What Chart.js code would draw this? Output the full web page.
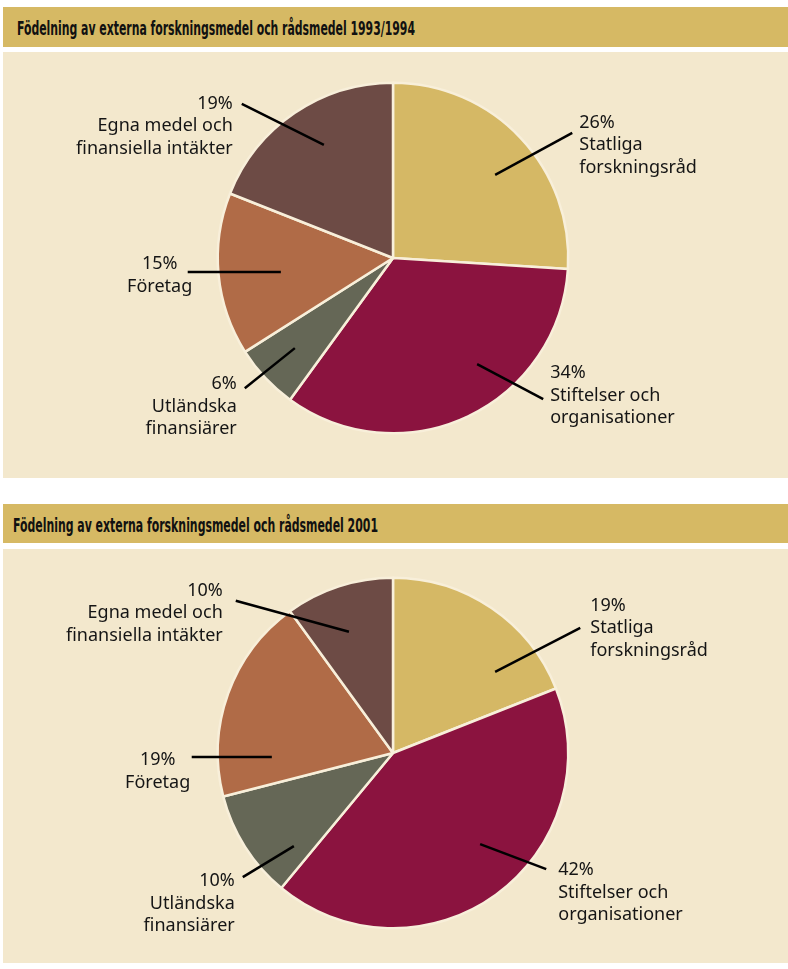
<!DOCTYPE html>
<html>
<head>
<meta charset="utf-8">
<script src="https://cdn.jsdelivr.net/npm/chart.js@4"></script>
<style>
  body { margin: 0; background: #ffffff; width: 788px; height: 969px; position: relative; overflow: hidden; }
  .bar { position: absolute; left: 3px; width: 785px; background: #d6b964; }
  .bar span {
    position: absolute; white-space: nowrap; display: inline-block;
    font: bold 19px "Liberation Sans Narrow", "DejaVu Sans Condensed", "Arial Narrow", sans-serif;
    color: #111; transform-origin: 0 0; line-height: 19px;
  }
  .panel { position: absolute; left: 3px; width: 785px; background: #f3e8cd; }
  canvas { display: block; }
</style>
</head>
<body>
<div class="bar" style="top:7px;height:40px"><span id="title1" style="left:14px;top:12px">Födelning av externa forskningsmedel och rådsmedel 1993/1994</span></div>
<div class="panel" style="top:52px;height:426px"><canvas id="pie1" width="785" height="426"></canvas></div>
<div class="bar" style="top:504px;height:39px"><span id="title2" style="left:10px;top:12px">Födelning av externa forskningsmedel och rådsmedel 2001</span></div>
<div class="panel" style="top:549px;height:414px"><canvas id="pie2" width="785" height="414"></canvas></div>

<script>
const categories = [
    ['Statliga', 'forskningsråd'],
    ['Stiftelser och', 'organisationer'],
    ['Utländska', 'finansiärer'],
    ['Företag'],
    ['Egna medel och', 'finansiella intäkter']
];
const share1993 = [26, 34, 6, 15, 19];
const share2001 = [19, 42, 10, 19, 10];

const sliceColors = ['#d5b865', '#8b133f', '#656756', '#b06b47', '#6d4b45'];

// leader line and label placement, offsets from pie centre (radius 175)
const layout1993 = [
    { from: [102, -83], to: [179, -125], text: [186, -130], align: 'left' },
    { from: [84, 106], to: [150, 141], text: [157, 120], align: 'left' },
    { from: [-98, 90], to: [-148, 130], text: [-156, 131], align: 'right' },
    { from: [-112, 14], to: [-205, 14], text: [-233, 11], align: 'center' },
    { from: [-69, -113], to: [-151, -154], text: [-160, -149], align: 'right' }
];
const layout2001 = [
    { from: [102, -81], to: [187, -125], text: [197, -142], align: 'left' },
    { from: [87, 91], to: [153, 116], text: [165, 122], align: 'left' },
    { from: [-99, 93], to: [-150, 124], text: [-158, 133], align: 'right' },
    { from: [-121, 4], to: [-201, 4], text: [-235, 12], align: 'center' },
    { from: [-44, -121], to: [-157, -152], text: [-170, -157], align: 'right' }
];

function fitTitle(id, target) {
    const el = document.getElementById(id);
    const w = el.getBoundingClientRect().width;
    el.style.transform = 'scaleX(' + (target / w) + ')';
}
fitTitle('title1', 398);
fitTitle('title2', 365);

const leaderLabels = {
    id: 'leaderLabels',
    afterDraw(chart, args, opts) {
        const ctx = chart.ctx;
        const meta = chart.getDatasetMeta(0);
        const values = chart.data.datasets[0].data;
        ctx.save();
        meta.data.forEach((arc, i) => {
            const k = arc.outerRadius / 175;
            const L = opts.layout[i];
            const cx = arc.x, cy = arc.y;
            ctx.strokeStyle = '#000';
            ctx.lineWidth = 2.5;
            ctx.beginPath();
            ctx.moveTo(cx + L.from[0] * k, cy + L.from[1] * k);
            ctx.lineTo(cx + L.to[0] * k, cy + L.to[1] * k);
            ctx.stroke();

            const lines = [values[i] + '%'].concat(chart.data.labels[i]);
            ctx.fillStyle = '#151515';
            ctx.font = '18px "Noto Sans", "Open Sans", sans-serif';
            ctx.textAlign = L.align;
            ctx.textBaseline = 'alphabetic';
            lines.forEach((t, j) => {
                ctx.fillText(t, cx + L.text[0] * k, cy + L.text[1] * k + j * 22.5);
            });
        });
        ctx.restore();
    }
};

function makePie(id, values, layout, pad) {
    return new Chart(document.getElementById(id), {
        type: 'pie',
        data: {
            labels: categories,
            datasets: [{
                data: values,
                backgroundColor: sliceColors,
                borderColor: '#f8efda',
                borderWidth: 2.5
            }]
        },
        options: {
            responsive: false,
            animation: false,
            layout: { padding: pad },
            plugins: {
                legend: { display: false },
                tooltip: { enabled: false },
                leaderLabels: { layout: layout }
            }
        },
        plugins: [leaderLabels]
    });
}

makePie('pie1', share1993, layout1993, { top: 29.5, bottom: 43.5, left: 0, right: 5 });
makePie('pie2', share2001, layout2001, { top: 27.5, bottom: 33.5, left: 0, right: 5 });
</script>
</body>
</html>
